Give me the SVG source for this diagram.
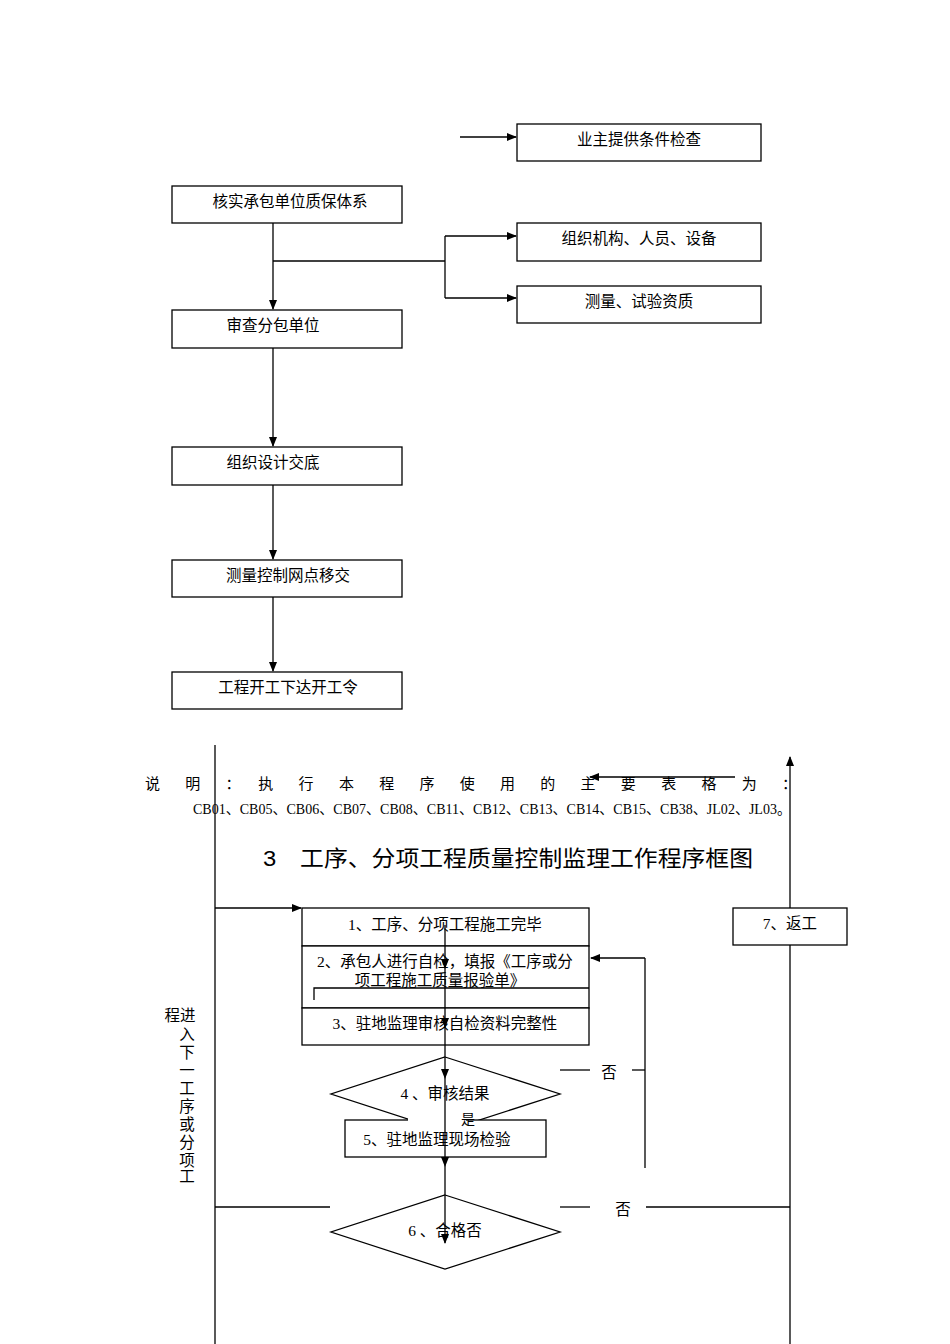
<svg xmlns="http://www.w3.org/2000/svg" width="950" height="1344" viewBox="0 0 950 1344">
<style>
.b{fill:#fff;stroke:#000;stroke-width:1.3}
.l{stroke:#000;stroke-width:1.3;fill:none}
.t{font-family:"Liberation Serif","Noto Sans CJK SC",serif;font-size:15.5px;fill:#000;text-anchor:middle}
.s{font-family:"Liberation Serif","Noto Sans CJK SC",serif;font-size:15px;fill:#000}
.h{font-family:"Liberation Sans","Noto Sans CJK SC",sans-serif;font-size:22px;fill:#000}
</style>
<defs><marker id="a" markerWidth="10" markerHeight="8" refX="9" refY="4" orient="auto" markerUnits="userSpaceOnUse"><path d="M0,0L10,4L0,8z" fill="#000"/></marker></defs>
<rect width="950" height="1344" fill="#fff"/>
<g id="connectors">
<line class="l" x1="460" y1="137" x2="516" y2="137" marker-end="url(#a)"/>
<line class="l" x1="273" y1="223" x2="273" y2="309" marker-end="url(#a)"/>
<polyline class="l" points="273,261 445,261"/>
<line class="l" x1="445" y1="236" x2="445" y2="298"/>
<line class="l" x1="445" y1="236" x2="516" y2="236" marker-end="url(#a)"/>
<line class="l" x1="445" y1="298" x2="516" y2="298" marker-end="url(#a)"/>
<line class="l" x1="273" y1="348" x2="273" y2="446" marker-end="url(#a)"/>
<line class="l" x1="273" y1="485" x2="273" y2="559" marker-end="url(#a)"/>
<line class="l" x1="273" y1="597" x2="273" y2="671" marker-end="url(#a)"/>
<line class="l" x1="215" y1="745" x2="215" y2="1344"/>
<line class="l" x1="790" y1="1344" x2="790" y2="757" marker-end="url(#a)"/>
<line class="l" x1="735" y1="777" x2="590" y2="777" marker-end="url(#a)"/>
<line class="l" x1="215" y1="908" x2="301" y2="908" marker-end="url(#a)"/>
<line class="l" x1="215" y1="1207" x2="330" y2="1207"/>
<line class="l" x1="560" y1="1207" x2="590" y2="1207"/>
<line class="l" x1="646" y1="1207" x2="790" y2="1207"/>
<line class="l" x1="560" y1="1070" x2="590" y2="1070"/>
<line class="l" x1="632" y1="1070" x2="645" y2="1070"/>
<line class="l" x1="645" y1="1168" x2="645" y2="958"/>
<line class="l" x1="645" y1="958" x2="591" y2="958" marker-end="url(#a)"/>
</g>
<g id="n1"><rect class="b" x="517" y="124" width="244" height="37"/><text class="t" x="639" y="145">业主提供条件检查</text></g>
<g id="n2"><rect class="b" x="172" y="186" width="230" height="37"/><text class="t" x="290" y="207">核实承包单位质保体系</text></g>
<g id="n3"><rect class="b" x="517" y="223" width="244" height="38"/><text class="t" x="639" y="244">组织机构、人员、设备</text></g>
<g id="n4"><rect class="b" x="517" y="286" width="244" height="37"/><text class="t" x="639" y="307">测量、试验资质</text></g>
<g id="n5"><rect class="b" x="172" y="310" width="230" height="38"/><text class="t" x="273" y="331">审查分包单位</text></g>
<g id="n6"><rect class="b" x="172" y="447" width="230" height="38"/><text class="t" x="273" y="468">组织设计交底</text></g>
<g id="n7"><rect class="b" x="172" y="560" width="230" height="37"/><text class="t" x="288" y="581">测量控制网点移交</text></g>
<g id="n8"><rect class="b" x="172" y="672" width="230" height="37"/><text class="t" x="288" y="693">工程开工下达开工令</text></g>
<g id="note">
<text class="s" x="145" y="789" textLength="652" lengthAdjust="spacing">说　明　：　执　行　本　程　序　使　用　的　主　要　表　格　为　：</text>
<text class="s" x="193" y="814" textLength="598" lengthAdjust="spacingAndGlyphs">CB01、CB05、CB06、CB07、CB08、CB11、CB12、CB13、CB14、CB15、CB38、JL02、JL03。</text>
</g>
<text class="h" x="263" y="866" textLength="490" lengthAdjust="spacingAndGlyphs">3　工序、分项工程质量控制监理工作程序框图</text>
<g id="b1"><rect class="b" x="302" y="908" width="287" height="38"/><text class="t" x="445" y="930">1、工序、分项工程施工完毕</text></g>
<g id="b2"><rect class="b" x="302" y="946" width="287" height="62"/><text class="t" x="445" y="967">2、承包人进行自检，填报《工序或分</text><text class="t" x="440" y="986">项工程施工质量报验单》</text>
<polyline class="l" points="314,1000 314,988 589,988"/></g>
<g id="b3"><rect class="b" x="302" y="1008" width="287" height="37"/><text class="t" x="445" y="1029">3、驻地监理审核自检资料完整性</text></g>
<g id="d4"><polygon class="b" points="445,1057 560,1094 445,1131 331,1094"/><text class="t" x="445" y="1099">4 、审核结果</text></g>
<g id="b5"><rect class="b" x="345" y="1120" width="201" height="37"/><rect x="408" y="1115" width="58" height="8" fill="#fff"/><text class="t" x="468" y="1124" style="font-size:14px">是</text><text class="t" x="437" y="1145">5、驻地监理现场检验</text></g>
<g id="d6"><polygon class="b" points="445,1195 560,1232 445,1269 331,1232"/><text class="t" x="445" y="1236">6 、合格否</text></g>
<g id="b7"><rect class="b" x="733" y="908" width="114" height="37"/><text class="t" x="790" y="929">7、返工</text></g>
<text class="t" x="609" y="1078">否</text>
<text class="t" x="623" y="1215">否</text>
<line class="l" x1="445" y1="925" x2="445" y2="968" marker-end="url(#a)"/>
<line class="l" x1="445" y1="968" x2="445" y2="1027" marker-end="url(#a)"/>
<line class="l" x1="445" y1="1027" x2="445" y2="1078" marker-end="url(#a)"/>
<line class="l" x1="445" y1="1078" x2="445" y2="1166" marker-end="url(#a)"/>
<line class="l" x1="445" y1="1166" x2="445" y2="1243" marker-end="url(#a)"/>
<g id="side">
<text class="t" x="180" y="1021">程进</text>
<text class="t" x="187" y="1040">入</text><text class="t" x="187" y="1058">下</text><text class="t" x="187" y="1076">一</text><text class="t" x="187" y="1094">工</text><text class="t" x="187" y="1112">序</text><text class="t" x="187" y="1130">或</text><text class="t" x="187" y="1148">分</text><text class="t" x="187" y="1166">项</text><text class="t" x="187" y="1182">工</text>
</g>
</svg>
